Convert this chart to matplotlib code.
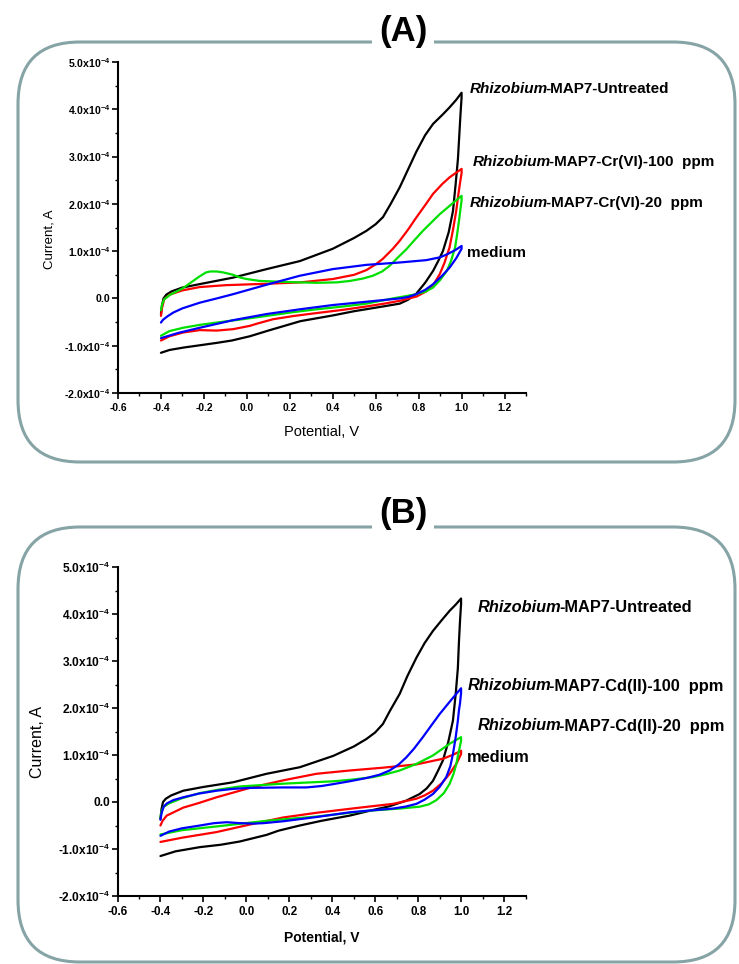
import matplotlib
matplotlib.use("Agg")
import matplotlib.pyplot as plt
from matplotlib.patches import FancyBboxPatch
from matplotlib.ticker import MultipleLocator, FuncFormatter

plt.rcParams['font.family'] = ['Liberation Sans', 'DejaVu Sans']
plt.rcParams['mathtext.default'] = 'regular'

# ---------------- data (potential in V, current in units of 1e-4 A) ----------------
# Panel A : anodic sweep (upper branch) followed by cathodic sweep (lower branch)
A_untreated_x = [-0.400, -0.395, -0.388, -0.375, -0.35, -0.30, -0.20, -0.064, 0.092, 0.247, 0.40, 0.50, 0.557, 0.60,
                 0.634, 0.67, 0.712, 0.75, 0.789, 0.83, 0.867, 0.91, 0.944, 0.975, 1.0,
                 1.0, 0.995, 0.99, 0.983, 0.972, 0.96, 0.94, 0.913, 0.89, 0.867, 0.83, 0.789, 0.75, 0.712, 0.634,
                 0.50, 0.40, 0.25, 0.10, 0.014, -0.07, -0.14, -0.296, -0.36, -0.40]
A_untreated_y = [-0.33, -0.15, 0.00, 0.08, 0.15, 0.23, 0.32, 0.44, 0.62, 0.79, 1.05, 1.28, 1.43, 1.57,
                 1.72, 2.00, 2.35, 2.72, 3.10, 3.45, 3.69, 3.88, 4.04, 4.20, 4.35,
                 4.25, 3.90, 3.50, 2.95, 2.40, 1.85, 1.40, 1.00, 0.78, 0.58, 0.33, 0.10, -0.03, -0.11, -0.17,
                 -0.27, -0.36, -0.48, -0.68, -0.80, -0.89, -0.94, -1.04, -1.09, -1.15]
A_cr100_x = [-0.40, -0.395, -0.385, -0.36, -0.30, -0.22, -0.10, 0.092, 0.25, 0.40, 0.50, 0.557, 0.60, 0.634, 0.68,
             0.712, 0.75, 0.789, 0.83, 0.867, 0.91, 0.944, 0.975, 1.0,
             1.0, 0.993, 0.985, 0.975, 0.96, 0.944, 0.92, 0.898, 0.87, 0.836, 0.79, 0.712, 0.64, 0.557, 0.45,
             0.324, 0.22, 0.122, 0.05, 0.014, -0.064, -0.14, -0.219, -0.296, -0.36, -0.40]
A_cr100_y = [-0.37, -0.20, -0.02, 0.08, 0.17, 0.24, 0.28, 0.31, 0.34, 0.41, 0.50, 0.60, 0.72, 0.84, 1.05,
             1.22, 1.45, 1.71, 1.97, 2.21, 2.42, 2.56, 2.66, 2.74,
             2.65, 2.45, 2.20, 1.85, 1.45, 1.08, 0.75, 0.51, 0.30, 0.15, 0.04, -0.05, -0.11, -0.17, -0.24,
             -0.31, -0.37, -0.44, -0.53, -0.58, -0.65, -0.68, -0.67, -0.72, -0.80, -0.89]
A_cr20_x = [-0.40, -0.395, -0.385, -0.36, -0.30, -0.25, -0.219, -0.19, -0.17, -0.14, -0.11, -0.064, -0.03, 0.0,
            0.06, 0.17, 0.324, 0.42, 0.48, 0.54, 0.587, 0.63, 0.665, 0.70, 0.743, 0.78, 0.82, 0.86, 0.898, 0.95, 1.0,
            1.0, 0.995, 0.99, 0.98, 0.97, 0.95, 0.931, 0.90, 0.867, 0.83, 0.789, 0.73, 0.68, 0.557, 0.45, 0.324,
            0.20, 0.092, -0.02, -0.14, -0.22, -0.296, -0.36, -0.40]
A_cr20_y = [-0.25, -0.13, -0.02, 0.07, 0.21, 0.37, 0.47, 0.55, 0.57, 0.57, 0.55, 0.50, 0.44, 0.41,
            0.37, 0.35, 0.33, 0.34, 0.37, 0.42, 0.48, 0.57, 0.69, 0.85, 1.04, 1.23, 1.43, 1.61, 1.78, 1.98, 2.17,
            2.07, 1.90, 1.71, 1.38, 1.08, 0.78, 0.58, 0.39, 0.23, 0.14, 0.09, 0.04, 0.00, -0.11, -0.17, -0.23,
            -0.30, -0.37, -0.44, -0.51, -0.56, -0.62, -0.69, -0.79]
A_medium_x = [-0.40, -0.39, -0.37, -0.343, -0.30, -0.219, -0.14, -0.064, 0.092, 0.247, 0.40, 0.557, 0.712, 0.836,
              0.90, 0.931, 0.97, 1.0,
              1.0, 0.975, 0.944, 0.905, 0.867, 0.83, 0.789, 0.75, 0.712, 0.557, 0.40, 0.247, 0.092, -0.064,
              -0.219, -0.32, -0.40]
A_medium_y = [-0.51, -0.45, -0.38, -0.30, -0.21, -0.09, 0.00, 0.09, 0.29, 0.48, 0.62, 0.71, 0.76, 0.81,
              0.87, 0.93, 1.02, 1.11,
              1.05, 0.85, 0.65, 0.46, 0.30, 0.18, 0.09, 0.03, 0.00, -0.07, -0.14, -0.23, -0.33, -0.46,
              -0.62, -0.73, -0.84]

# Panel B
B_untreated_x = [-0.40, -0.395, -0.388, -0.375, -0.35, -0.294, -0.20, -0.061, 0.094, 0.249, 0.404, 0.50, 0.559, 0.60,
                 0.636, 0.67, 0.714, 0.75, 0.792, 0.83, 0.869, 0.91, 0.947, 0.975, 1.0,
                 1.0, 0.995, 0.99, 0.985, 0.975, 0.962, 0.94, 0.915, 0.89, 0.869, 0.84, 0.807, 0.745, 0.667, 0.58,
                 0.481, 0.35, 0.249, 0.15, 0.094, -0.03, -0.12, -0.216, -0.33, -0.40]
B_untreated_y = [-0.36, -0.15, 0.00, 0.07, 0.14, 0.24, 0.32, 0.42, 0.60, 0.74, 0.98, 1.18, 1.34, 1.48,
                 1.66, 1.95, 2.30, 2.68, 3.07, 3.38, 3.64, 3.87, 4.07, 4.20, 4.33,
                 4.22, 3.85, 3.40, 2.85, 2.30, 1.73, 1.27, 0.88, 0.64, 0.45, 0.29, 0.17, 0.03, -0.09, -0.18,
                 -0.29, -0.40, -0.50, -0.61, -0.70, -0.84, -0.91, -0.96, -1.05, -1.15]
B_cd100_x = [-0.40, -0.395, -0.385, -0.37, -0.34, -0.294, -0.22, -0.139, -0.06, 0.016, 0.171, 0.28, 0.35, 0.404,
             0.48, 0.559, 0.62, 0.667, 0.71, 0.745, 0.78, 0.822, 0.86, 0.90, 0.95, 1.0,
             1.0, 0.995, 0.99, 0.985, 0.975, 0.962, 0.95, 0.931, 0.90, 0.869, 0.83, 0.792, 0.74, 0.683, 0.58,
             0.481, 0.326, 0.171, 0.08, 0.032, -0.03, -0.092, -0.15, -0.216, -0.30, -0.36, -0.40]
B_cd100_y = [-0.38, -0.24, -0.10, -0.03, 0.04, 0.10, 0.18, 0.24, 0.28, 0.30, 0.31, 0.31, 0.34, 0.38,
             0.44, 0.51, 0.58, 0.67, 0.80, 0.95, 1.13, 1.38, 1.62, 1.87, 2.15, 2.42,
             2.32, 2.10, 1.95, 1.73, 1.38, 1.02, 0.76, 0.53, 0.32, 0.17, 0.05, -0.04, -0.10, -0.14, -0.18,
             -0.22, -0.32, -0.41, -0.45, -0.46, -0.45, -0.43, -0.45, -0.50, -0.56, -0.63, -0.72]
B_cd20_x = [-0.40, -0.395, -0.385, -0.36, -0.30, -0.216, -0.12, -0.03, 0.171, 0.404, 0.50, 0.59, 0.65, 0.714,
            0.792, 0.869, 0.947, 1.0,
            1.0, 0.993, 0.985, 0.978, 0.965, 0.947, 0.92, 0.885, 0.85, 0.807, 0.714, 0.559, 0.326, 0.094,
            -0.139, -0.30, -0.40]
B_cd20_y = [-0.33, -0.20, -0.10, -0.03, 0.08, 0.19, 0.27, 0.33, 0.39, 0.44, 0.48, 0.53, 0.59, 0.67,
            0.81, 0.99, 1.24, 1.38,
            1.30, 1.15, 0.98, 0.81, 0.60, 0.39, 0.19, 0.04, -0.05, -0.10, -0.14, -0.19, -0.31, -0.40,
            -0.52, -0.60, -0.69]
B_medium_x = [-0.40, -0.39, -0.371, -0.33, -0.294, -0.22, -0.139, 0.016, 0.171, 0.326, 0.481, 0.636, 0.792, 0.915,
              0.96, 1.0,
              1.0, 0.98, 0.947, 0.91, 0.869, 0.83, 0.792, 0.683, 0.528, 0.326, 0.171, 0.016, -0.139, -0.30, -0.40]
B_medium_y = [-0.50, -0.40, -0.29, -0.20, -0.12, -0.02, 0.10, 0.30, 0.46, 0.60, 0.67, 0.73, 0.80, 0.92,
              1.00, 1.09,
              1.02, 0.83, 0.60, 0.40, 0.24, 0.14, 0.07, -0.04, -0.12, -0.23, -0.33, -0.48, -0.64, -0.76, -0.85]

A_series = [(A_untreated_x, A_untreated_y, 'black'), (A_cr100_x, A_cr100_y, '#ff0000'),
            (A_cr20_x, A_cr20_y, '#00e000'), (A_medium_x, A_medium_y, '#0000ff')]
B_series = [(B_untreated_x, B_untreated_y, 'black'), (B_medium_x, B_medium_y, '#ff0000'),
            (B_cd20_x, B_cd20_y, '#00e000'), (B_cd100_x, B_cd100_y, '#0000ff')]

yticks_vals = [-2, -1, 0, 1, 2, 3, 4, 5]
xticks_vals = [-0.6, -0.4, -0.2, 0.0, 0.2, 0.4, 0.6, 0.8, 1.0, 1.2]

A_labels = [('Rhizobium', '-MAP7-Untreated', 470, 89),
            ('Rhizobium', '-MAP7-Cr(VI)-100  ppm', 473, 162),
            ('Rhizobium', '-MAP7-Cr(VI)-20  ppm', 470, 203),
            ('', 'medium', 467, 253)]
B_labels = [('Rhizobium', '-MAP7-Untreated', 478, 607),
            ('Rhizobium', '-MAP7-Cd(II)-100  ppm', 468, 686),
            ('Rhizobium', '-MAP7-Cd(II)-20  ppm', 478, 726),
            ('', 'medium', 467, 757)]

W, H = 739, 964
fig = plt.figure(figsize=(W / 100, H / 100), dpi=100)
fig.patch.set_facecolor('white')

# overlay in pixel coordinates
ov = fig.add_axes([0, 0, 1, 1], zorder=0)
ov.set_xlim(0, W)
ov.set_ylim(H, 0)
ov.axis('off')

box_col = '#86a3a5'
for (x0, y0, x1, y1) in [(18, 42, 735, 462), (18, 527, 735, 962)]:
    ov.add_patch(FancyBboxPatch((x0, y0), x1 - x0, y1 - y0,
                                boxstyle='round,pad=0,rounding_size=62',
                                fc='none', ec=box_col, lw=2.2))
ov.text(403, 31, '(A)', ha='center', va='center', fontsize=25, fontweight='bold',
        bbox=dict(fc='white', ec='none', pad=5))
ov.text(403, 513, '(B)', ha='center', va='center', fontsize=25, fontweight='bold',
        bbox=dict(fc='white', ec='none', pad=5))


def fmt(v, pos):
    if abs(v) < 1e-9:
        return '0.0'
    return '%.1fx10$^{-4}$' % v


def make_ax(rect, series, ytick_fs, xtick_fs):
    ax = fig.add_axes(rect, zorder=2)
    ax.patch.set_alpha(0)
    for xs, ys, c in series:
        ax.plot(xs, ys, color=c, lw=1.6, solid_joinstyle='round', solid_capstyle='round')
    ax.set_xlim(-0.6, 1.3)
    ax.set_ylim(-2, 5)
    ax.set_xticks(xticks_vals)
    ax.set_yticks(yticks_vals)
    ax.xaxis.set_minor_locator(MultipleLocator(0.1))
    ax.yaxis.set_minor_locator(MultipleLocator(0.5))
    ax.yaxis.set_major_formatter(FuncFormatter(fmt))
    ax.xaxis.set_major_formatter(FuncFormatter(lambda v, p: '%.1f' % v))
    for s in ['top', 'right']:
        ax.spines[s].set_visible(False)
    for s in ['left', 'bottom']:
        ax.spines[s].set_linewidth(1.5)
    ax.tick_params(which='major', direction='out', length=4, width=1.2)
    ax.tick_params(which='minor', direction='out', length=2.5, width=1.0)
    ax.tick_params(axis='y', which='major', pad=1.5, labelsize=ytick_fs)
    ax.tick_params(axis='x', which='major', pad=3, labelsize=xtick_fs)
    for lab in ax.get_xticklabels() + ax.get_yticklabels():
        lab.set_fontweight('bold')
    return ax


axA = make_ax([118 / W, 1 - 393 / H, 408 / W, 331 / H], A_series, 7.6, 7.4)
axB = make_ax([117.5 / W, 1 - 896 / H, 408 / W, 329 / H], B_series, 8.6, 8.4)

ov2 = fig.add_axes([0, 0, 1, 1], zorder=3)
ov2.set_xlim(0, W)
ov2.set_ylim(H, 0)
ov2.axis('off')
ov2.patch.set_alpha(0)

ov2.text(50, 239, 'Current, A', rotation=90, ha='center', va='center', fontsize=9.5)
ov2.text(322, 432, 'Potential, V', ha='center', va='center', fontsize=10.5)
ov2.text(37, 742, 'Current, A', rotation=90, ha='center', va='center', fontsize=11.5)
ov2.text(322, 938, 'Potential, V', ha='center', va='center', fontsize=10, fontweight='bold')

fig.canvas.draw()
renderer = fig.canvas.get_renderer()


def put_labels(labels, fs):
    inv = ov2.transData.inverted()
    for it, rest, x, y in labels:
        xx = x
        if it:
            t = ov2.text(x, y, it, ha='left', va='center', fontsize=fs, fontweight='bold', fontstyle='italic')
            bb = t.get_window_extent(renderer)
            xx = inv.transform((bb.x1, bb.y0))[0] - 2.5
        ov2.text(xx, y, rest, ha='left', va='center', fontsize=fs, fontweight='bold')


put_labels(A_labels, 11)
put_labels(B_labels, 11.8)

fig.savefig('out.png', dpi=100, facecolor='white')
